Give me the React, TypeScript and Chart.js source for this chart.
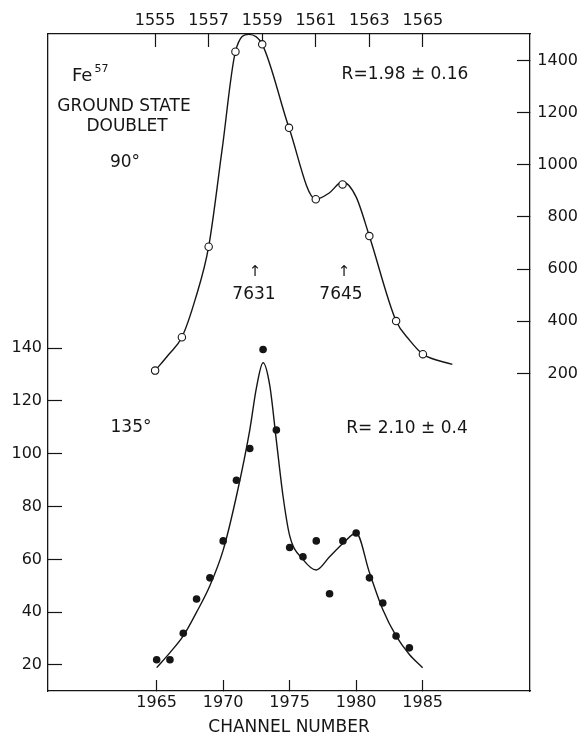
import React, { useEffect, useRef } from 'react';
import { Chart, registerables } from 'chart.js';

Chart.register(...registerables);

const FONT = '"DejaVu Sans", "Liberation Sans", sans-serif';
const INK = '#151515';

// ---- 90° data (top channel axis, right count axis) ----
const topChannels = [1555, 1556, 1557, 1558, 1559, 1560, 1561, 1562, 1563, 1564, 1565];
const topCounts = [211, 339, 686, 1434, 1462, 1142, 868, 925, 727, 401, 274];
// hand-drawn fit curve
const topFitChannels = [1555, 1555.5, 1556, 1556.5, 1557, 1557.5, 1558, 1558.5, 1559, 1560, 1561, 1561.5, 1562, 1562.5, 1563, 1564, 1564.5, 1565, 1566.1];
const topFitCounts = [211, 272, 339, 485, 686, 1057, 1434, 1500, 1462, 1142, 868, 892, 935, 878, 727, 401, 328, 274, 235];

// ---- 135° data (bottom channel axis, left count axis) ----
const bottomChannels = [1965, 1966, 1967, 1968, 1969, 1970, 1971, 1972, 1973, 1974, 1975, 1976, 1977, 1978, 1979, 1980, 1981, 1982, 1983, 1984];
const bottomCounts = [22, 22, 32, 45, 53, 67, 90, 102, 139.5, 109, 64.5, 61, 67, 47, 67, 70, 53, 43.5, 31, 26.5];
const bottomFitChannels = [1965, 1966, 1967, 1968, 1969, 1970, 1971, 1972, 1972.5, 1973, 1973.5, 1974, 1974.5, 1975, 1976, 1977, 1978, 1979, 1980, 1981, 1982, 1983, 1984, 1985];
const bottomFitCounts = [19, 24.7, 31, 40, 50, 63.5, 84, 109, 125, 134.5, 126, 105, 84, 69, 60, 56, 61, 66, 70, 55, 41, 31, 24, 19];

// ---- tick labels ----
const bottomTicks = [1965, 1970, 1975, 1980, 1985];
const topTicks = [1555, 1557, 1559, 1561, 1563, 1565];
const leftTicks = [20, 40, 60, 80, 100, 120, 140];
const rightTicks = [200, 400, 600, 800, 1000, 1200, 1400];

const xTitle = 'CHANNEL NUMBER';

const pts = (xs: number[], ys: number[]) => xs.map((x, i) => ({ x, y: ys[i] }));

function axis(
  position: string,
  min: number,
  max: number,
  tickVals: number[],
  tickLength: number,
  padding: number,
  size: number,
  extra: any = {}
) {
  const horizontal = position === 'top' || position === 'bottom';
  return {
    type: 'linear',
    position,
    min,
    max,
    afterBuildTicks: (s: any) => {
      s.ticks = tickVals.map((v) => ({ value: v }));
    },
    afterFit: (s: any) => {
      if (horizontal) s.height = size;
      else s.width = size;
    },
    border: { display: true, color: INK, width: 1.3 },
    grid: {
      display: true,
      drawOnChartArea: false,
      drawTicks: true,
      tickLength,
      color: INK,
      tickColor: INK,
      tickWidth: 1.2,
    },
    ticks: {
      color: INK,
      font: { family: FONT, size: 16 },
      padding,
      maxRotation: 0,
      minRotation: 0,
      autoSkip: false,
      callback: (v: any) => String(v),
      ...(extra.ticks || {}),
    },
    title: extra.title || { display: false },
  };
}

const notesPlugin = {
  id: 'notes',
  afterDraw(chart: any) {
    const ctx = chart.ctx as CanvasRenderingContext2D;
    ctx.save();
    ctx.fillStyle = INK;
    ctx.textBaseline = 'middle';
    const t = (s: string, x: number, y: number, size: number, align: CanvasTextAlign = 'center') => {
      ctx.font = `${size}px ${FONT}`;
      ctx.textAlign = align;
      ctx.fillText(s, x, y);
    };
    // Fe^57
    ctx.font = `18px ${FONT}`;
    const feW = ctx.measureText('Fe').width;
    t('Fe', 72, 76, 18, 'left');
    t('57', 72 + feW + 2, 69, 11, 'left');
    t('GROUND STATE', 124, 107, 17);
    t('DOUBLET', 127, 127, 17);
    t('90°', 125, 163, 17);
    t('R=1.98 ± 0.16', 405, 75, 17);
    // peak markers
    t('↑', 255, 272, 15);
    t('7631', 254, 295, 17);
    t('↑', 344, 272, 15);
    t('7645', 341, 295, 17);
    // 135°
    t('135°', 131, 428, 17);
    t('R= 2.10 ± 0.4', 407, 429, 17);
    ctx.restore();
  },
};

export default function App() {
  const ref = useRef<HTMLCanvasElement>(null);

  useEffect(() => {
    if (!ref.current) return;
    const chart = new Chart(ref.current, {
      type: 'scatter',
      data: {
        datasets: [
          {
            label: '90° counts',
            data: pts(topChannels, topCounts),
            xAxisID: 'x2',
            yAxisID: 'y2',
            showLine: false,
            pointStyle: 'circle',
            pointRadius: 3.7,
            pointBackgroundColor: '#ffffff',
            pointBorderColor: INK,
            pointBorderWidth: 1.1,
            clip: false,
            order: 0,
          },
          {
            label: '90° fit',
            data: pts(topFitChannels, topFitCounts),
            xAxisID: 'x2',
            yAxisID: 'y2',
            showLine: true,
            pointRadius: 0,
            borderColor: INK,
            borderWidth: 1.4,
            cubicInterpolationMode: 'monotone',
            fill: false,
            clip: false,
            order: 1,
          },
          {
            label: '135° counts',
            data: pts(bottomChannels, bottomCounts),
            xAxisID: 'x',
            yAxisID: 'y',
            showLine: false,
            pointStyle: 'circle',
            pointRadius: 3.8,
            pointBackgroundColor: INK,
            pointBorderColor: INK,
            pointBorderWidth: 0,
            clip: false,
            order: 0,
          },
          {
            label: '135° fit',
            data: pts(bottomFitChannels, bottomFitCounts),
            xAxisID: 'x',
            yAxisID: 'y',
            showLine: true,
            pointRadius: 0,
            borderColor: INK,
            borderWidth: 1.4,
            cubicInterpolationMode: 'monotone',
            fill: false,
            clip: false,
            order: 1,
          },
        ] as any,
      },
      options: {
        animation: false,
        responsive: false,
        maintainAspectRatio: false,
        events: [],
        layout: { padding: { left: 0, top: 0, right: 2, bottom: 0 } },
        plugins: {
          legend: { display: false },
          tooltip: { enabled: false },
          title: { display: false },
        },
        scales: {
          x: axis('bottom', 1956.83, 1993.07, bottomTicks, -11, 13, 45, {
            title: {
              display: true,
              text: xTitle,
              color: INK,
              font: { family: FONT, size: 17, lineHeight: 1 },
              padding: { top: 0, bottom: 0 },
            },
          }),
          x2: axis('top', 1551.0, 1569.0, topTicks, -13, 17, 34),
          y: axis('left', 10.15, 259, leftTicks, -14, 20, 48),
          y2: axis('right', -1017.3, 1501.6, rightTicks, -13, 0, 48, {
            ticks: { crossAlign: 'far' },
          }),
        } as any,
      },
      plugins: [notesPlugin],
    });
    return () => chart.destroy();
  }, []);

  return (
    <div style={{ position: 'fixed', left: 0, top: 0, width: 580, height: 736, background: '#fff' }}>
      <canvas ref={ref} width={580} height={736} style={{ display: 'block', width: 580, height: 736 }} />
    </div>
  );
}
